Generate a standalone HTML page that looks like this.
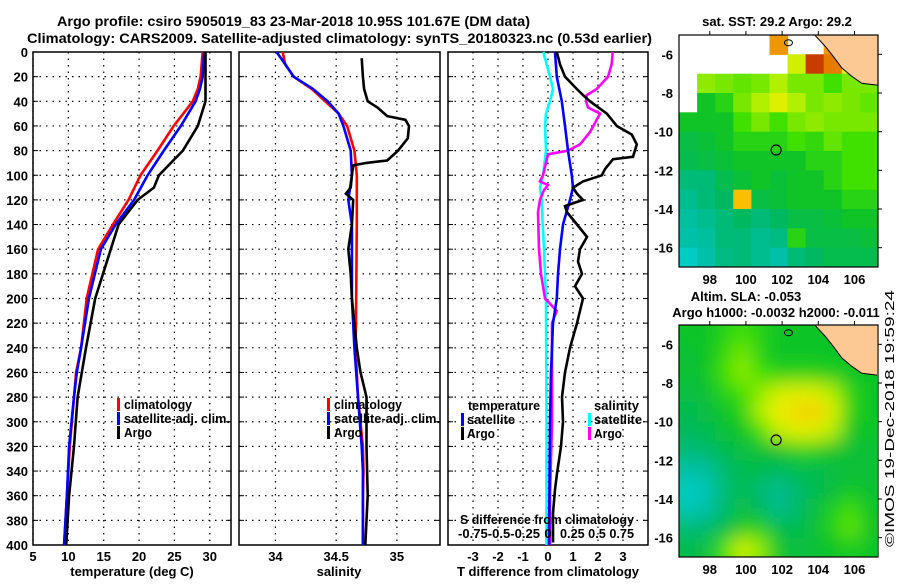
<!DOCTYPE html>
<html><head><meta charset="utf-8"><style>
html,body{margin:0;padding:0;background:#fff;}
svg text{font-family:"Liberation Sans",sans-serif;font-weight:bold;fill:#000;}
</style></head><body>
<svg id="fig" xmlns="http://www.w3.org/2000/svg" width="900" height="580" viewBox="0 0 900 580">
<defs>
<filter id="blur" x="0" y="0" width="100%" height="100%"><feGaussianBlur stdDeviation="9"/></filter>
<clipPath id="clipA"><rect x="679" y="35" width="199" height="232"/></clipPath>
<clipPath id="clipB"><rect x="679" y="325" width="198" height="232"/></clipPath>
</defs>
<text x="57" y="26" font-size="14" textLength="473" lengthAdjust="spacingAndGlyphs">Argo profile: csiro 5905019_83 23-Mar-2018 10.95S 101.67E (DM data)</text>
<text x="27" y="43" font-size="14" textLength="625" lengthAdjust="spacingAndGlyphs">Climatology: CARS2009. Satellite-adjusted climatology: synTS_20180323.nc (0.53d earlier)</text>
<g id="panels"></g>
<g id="maps"></g>
<text x="777" y="26" font-size="13" text-anchor="middle">sat. SST: 29.2 Argo: 29.2</text>
<text x="746" y="301" font-size="13" text-anchor="middle">Altim. SLA: -0.053</text>
<text x="776" y="317" font-size="13" text-anchor="middle">Argo h1000: -0.0032 h2000: -0.011</text>
<text transform="translate(894,547) rotate(-90)" font-size="13" style="font-weight:normal" textLength="257" lengthAdjust="spacingAndGlyphs">©IMOS 19-Dec-2018 19:59:24</text>
</svg>
<script>
// ---- profile data ----
const tempDepth = [0,20,30,40,60,80,100,120,140,160,200,240,260,280,320,360,400];
const tempClim  = [29.0,28.7,28.3,27.6,24.9,22.6,20.2,18.5,16.3,14.2,12.6,11.8,11.1,10.8,10.2,9.8,9.4];
const tempSat   = [29.2,29.0,28.6,28.0,25.9,23.5,21.2,19.3,16.7,14.6,12.9,11.8,11.2,10.8,10.1,9.8,9.4];
const argoTDepth= [0,40,60,80,90,100,110,120,140,160,200,240,280,320,360,400];
const argoTemp  = [29.4,29.4,28.3,26.2,24.5,22.8,22.1,19.8,17.1,16.0,13.8,12.5,11.3,10.8,10.1,9.7];

const salDepth = [0,10,20,30,40,50,60,80,100,120,140,200,240,280,320,340,360,400];
const salClim  = [34.06,34.08,34.15,34.30,34.41,34.52,34.59,34.65,34.67,34.67,34.67,34.665,34.66,34.68,34.72,34.725,34.72,34.72];
const salSat   = [34.01,34.08,34.15,34.31,34.43,34.52,34.56,34.62,34.63,34.60,34.63,34.63,34.65,34.68,34.71,34.72,34.72,34.72];
const argoSDepth=[5,20,30,40,45,52,55,60,70,80,88,90,92,100,110,115,120,140,160,180,200,220,240,260,280,320,360,400];
const argoSal   = [34.71,34.72,34.73,34.76,34.84,34.92,35.07,35.10,35.09,35.01,34.92,34.75,34.64,34.63,34.62,34.58,34.64,34.63,34.60,34.62,34.63,34.65,34.67,34.70,34.75,34.75,34.76,34.74];

const dTSatDepth = [0,20,40,60,80,100,110,120,140,160,180,200,220,260,300,400];
const dTSat      = [0.28,0.35,0.55,0.68,0.8,0.95,1.0,0.88,0.6,0.48,0.4,0.35,0.2,0.12,0.08,0.04];
const dTArgoDepth= [0,10,20,30,35,40,50,60,67,75,85,87,95,100,105,110,115,120,125,130,140,150,160,170,180,190,200,220,240,260,280,300,320,342,355,374,398];
const dTArgo     = [0.35,0.48,0.68,1.15,1.4,1.68,2.35,2.75,3.35,3.55,3.4,2.6,2.28,2.15,1.4,1.0,1.16,1.4,0.68,0.76,1.16,1.56,1.28,1.2,1.36,1.08,1.4,1.16,0.88,0.68,0.56,0.6,0.52,0.36,0.28,0.2,0.2];
const dSArgoDepth= [0,10,20,30,35,40,45,50,55,65,75,80,83,90,100,105,108,112,120,130,160,180,200,210,220,260,300,360,400];
const dSArgo     = [0.647,0.637,0.6,0.487,0.387,0.38,0.4,0.52,0.487,0.42,0.32,0.2,0,-0.02,-0.05,-0.08,0,-0.04,-0.08,-0.1,-0.09,-0.07,-0.03,0.087,0.04,0.04,0.04,0.02,0.02];
const dSSatDepth = [0,20,30,40,50,60,80,100,110,120,140,160,200,300,400];
const dSSat      = [-0.047,0.02,0.05,0.02,-0.02,-0.03,-0.02,-0.05,-0.08,-0.063,-0.053,-0.04,-0.02,-0.015,-0.015];

const depthTicks = [0,20,40,60,80,100,120,140,160,180,200,220,240,260,280,300,320,340,360,380,400];
const tempTicks = [5,10,15,20,25,30];
const salTicks = [34,34.5,35];
const salTickLabels = ["34","34.5","35"];
const dTTicks = [-3,-2,-1,0,1,2,3];

// ---- map data (rows from -5 to -17 lat, cols from 96.3 lon, 1 deg) ; -1 = no data ----
const sstGrid = [
 [-1,-1,-1,-1,-1,0.88,-1,-1,0.88,-1,-1],
 [-1,-1,-1,-1,-1,-1,0.7,0.95,0.9,0.72,0.7],
 [-1,0.62,0.6,0.58,0.6,0.65,0.6,0.6,0.55,0.6,0.6],
 [-1,0.45,0.5,0.6,0.65,0.72,0.65,0.6,0.62,0.6,0.58],
 [0.45,0.45,0.45,0.55,0.6,0.55,0.6,0.62,0.6,0.6,0.6],
 [0.4,0.42,0.45,0.5,0.5,0.5,0.55,0.52,0.58,0.55,0.55],
 [0.38,0.4,0.42,0.45,0.45,0.45,0.45,0.5,0.5,0.55,0.55],
 [0.3,0.3,0.38,0.42,0.45,0.42,0.45,0.45,0.5,0.55,0.55],
 [0.25,0.3,0.35,0.85,0.4,0.42,0.45,0.45,0.45,0.5,0.5],
 [0.22,0.25,0.3,0.35,0.3,0.35,0.4,0.4,0.42,0.45,0.45],
 [0.2,0.22,0.3,0.3,0.25,0.28,0.5,0.4,0.4,0.4,0.42],
 [0.1,0.2,0.28,0.3,0.25,0.2,0.3,0.35,0.38,0.38,0.38]];
const slaGrid = [
 [0.45,0.45,0.5,0.55,0.5,0.45,0.45,0.45,0.45,0.45,0.45],
 [0.42,0.45,0.52,0.6,0.5,0.45,0.45,0.45,0.45,0.45,0.45],
 [0.42,0.45,0.55,0.62,0.55,0.5,0.5,0.5,0.48,0.45,0.45],
 [0.4,0.42,0.5,0.55,0.62,0.7,0.72,0.72,0.65,0.5,0.45],
 [0.38,0.4,0.45,0.5,0.65,0.75,0.8,0.82,0.72,0.5,0.45],
 [0.35,0.38,0.42,0.45,0.55,0.68,0.72,0.72,0.65,0.45,0.45],
 [0.3,0.32,0.38,0.4,0.42,0.45,0.5,0.5,0.45,0.42,0.42],
 [0.2,0.22,0.32,0.38,0.38,0.35,0.38,0.38,0.4,0.42,0.42],
 [0.1,0.15,0.3,0.38,0.3,0.25,0.32,0.38,0.4,0.45,0.42],
 [0.15,0.2,0.32,0.4,0.35,0.25,0.32,0.4,0.48,0.55,0.45],
 [0.3,0.32,0.38,0.48,0.5,0.38,0.38,0.42,0.5,0.58,0.45],
 [0.38,0.4,0.55,0.7,0.62,0.45,0.4,0.42,0.45,0.48,0.45]];
const lonTicks = [98,100,102,104,106];
const latTicks = [-6,-8,-10,-12,-14,-16];
const argoLon = 101.67, argoLat = -10.95;

const NS = "http://www.w3.org/2000/svg";
function mk(tag, attrs, parent){const e=document.createElementNS(NS,tag);for(const k in attrs)e.setAttribute(k,attrs[k]);parent.appendChild(e);return e;}
const P = document.getElementById('panels');
const yTop=52,yBot=545;
const yS = d => yTop + (d/400)*(yBot-yTop);
function xScale(l,r,d0,d1){return v => l+(v-d0)/(d1-d0)*(r-l);}
const x1 = xScale(33,231,5,33), x2 = xScale(239,440,33.70,35.355), x3 = xScale(448,648,-4,4);
const x3S = s => x3(s*4);

function frame(l,r,xt,xf,xl,name){
  const g=mk('g',{},P);
  
  
  depthTicks.forEach(d=>{ if(d>0&&d<400){const ln=mk('line',{x1:l,x2:r,y1:yS(d),y2:yS(d),stroke:'#000','stroke-width':1.2,'stroke-dasharray':'1.5 5'},g);
    
    }
    mk('line',{x1:l,x2:l+5,y1:yS(d),y2:yS(d),stroke:'#000','stroke-width':1},g);
    mk('line',{x1:r-5,x2:r,y1:yS(d),y2:yS(d),stroke:'#000','stroke-width':1},g);});
  xt.forEach((v,i)=>{const x=xf(v);const ln=mk('line',{x1:x,x2:x,y1:yTop,y2:yBot,stroke:'#000','stroke-width':1.2,'stroke-dasharray':'1.5 5'},g);
    
    
    if(xl){const t=mk('text',{x:x,y:561,'font-size':13,'text-anchor':'middle'},g);t.textContent=xl[i];
    
    }});
  const b=mk('rect',{x:l,y:yTop,width:r-l,height:yBot-yTop,fill:'none',stroke:'#000','stroke-width':1.5},g);
  
  
  return g;
}
function line(g,xs,ds,xf,col,name){
  const pts=xs.map((v,i)=>xf(v).toFixed(1)+','+yS(ds[i]).toFixed(1)).join(' ');
  const pl=mk('polyline',{points:pts,fill:'none',stroke:col,'stroke-width':2.6,'stroke-linejoin':'miter'},g);
  
  
}
function txt(g,x,y,s,name,anchor,size,len){const a={x:x,y:y,'font-size':size||13,'text-anchor':anchor||'start'};if(len){a.textLength=len;a.lengthAdjust='spacingAndGlyphs';}
  const t=mk('text',a,g);t.textContent=s;
  
  return t;}
function bar(g,x,y,col){const r=mk('rect',{x:x,y:y-11,width:3,height:13,fill:col},g);
  
  }

// y labels
const yl=mk('g',{},P);


depthTicks.forEach(d=>{const t=mk('text',{x:28,y:yS(d)+5,'font-size':13,'text-anchor':'end'},yl);t.textContent=d;
  
  });

// panel 1
const g1=frame(33,231,tempTicks,x1,null,'temperature-panel');
[5,10,15,20,25,30].forEach(v=>{const t=mk('text',{x:x1(v),y:561,'font-size':13,'text-anchor':'middle'},g1);t.textContent=v;
  
  });
line(g1,tempClim,tempDepth,x1,'#ff0000','climatology-temp-line');
line(g1,tempSat,tempDepth,x1,'#0000ff','satellite-temp-line');
line(g1,argoTemp,argoTDepth,x1,'#000000','argo-temp-line');
bar(g1,117,409,'#ff0000');txt(g1,124,409,'climatology','legend-entry',null,13,68);
bar(g1,117,423,'#0000ff');txt(g1,124,423,'satellite-adj. clim.','legend-entry',null,13,106);
bar(g1,117,437,'#000');txt(g1,124,437,'Argo','legend-entry',null,13,28);
txt(g1,132,576,'temperature (deg C)','x-axis-title','middle');

// panel 2
const g2=frame(239,440,salTicks,x2,salTickLabels,'salinity-panel');
line(g2,salClim,salDepth,x2,'#ff0000','climatology-sal-line');
line(g2,salSat,salDepth,x2,'#0000ff','satellite-sal-line');
line(g2,argoSal,argoSDepth,x2,'#000000','argo-sal-line');
bar(g2,327,409,'#ff0000');txt(g2,334,409,'climatology','legend-entry',null,13,68);
bar(g2,327,423,'#0000ff');txt(g2,334,423,'satellite-adj. clim.','legend-entry',null,13,106);
bar(g2,327,437,'#000');txt(g2,334,437,'Argo','legend-entry',null,13,28);
txt(g2,339,576,'salinity','x-axis-title','middle');

// panel 3
const g3=frame(448,648,dTTicks,x3,dTTicks.map(String),'difference-panel');
line(g3,dSSat,dSSatDepth,x3S,'#00ffff','satellite-sal-diff-line');
line(g3,dSArgo,dSArgoDepth,x3S,'#ff00ff','argo-sal-diff-line');
line(g3,dTSat,dTSatDepth,x3,'#0000ff','satellite-temp-diff-line');
line(g3,dTArgo,dTArgoDepth,x3,'#000000','argo-temp-diff-line');
txt(g3,468,410,'temperature','legend-title',null,13,72);
bar(g3,461,424,'#0000ff');txt(g3,467,424,'satellite','legend-entry',null,13,48);
bar(g3,461,438,'#000');txt(g3,467,438,'Argo','legend-entry',null,13,28);
txt(g3,594,410,'salinity','legend-title',null,13,45);
bar(g3,588,424,'#00ffff');txt(g3,594,424,'satellite','legend-entry',null,13,48);
bar(g3,588,438,'#ff00ff');txt(g3,594,438,'Argo','legend-entry',null,13,28);
txt(g3,547,524,'S difference from climatology','s-axis-title','middle',13,174);
txt(g3,458,538,'-0.75-0.5-0.25','s-tick-labels',null,13,82);
txt(g3,548,538,'0','s-tick-label','middle');
txt(g3,560,538,'0.25 0.5 0.75','s-tick-labels',null,13,74);
txt(g3,548,576,'T difference from climatology','x-axis-title','middle');

// ---- maps ----
const stops=[[0,[0,216,224]],[0.2,[0,192,168]],[0.35,[0,184,96]],[0.45,[16,196,40]],[0.55,[64,224,0]],[0.65,[176,240,0]],[0.75,[240,240,0]],[0.85,[248,192,0]],[0.92,[224,96,0]],[1,[160,0,0]]];
function cmap(v){for(let i=1;i<stops.length;i++){if(v<=stops[i][0]){const a=stops[i-1],b=stops[i],t=(v-a[0])/(b[0]-a[0]);const c=a[1].map((x,k)=>Math.round(x+(b[1][k]-x)*t));return 'rgb('+c.join(',')+')';}}return 'rgb(160,0,0)';}
const M=document.getElementById('maps');
function drawMap(grid,top,bottom,clip,blur,name){
  const L=679,R=878,lon0=96.3,lon1=107.3,lat0=-5,lat1=-17;
  const gx=v=>L+(v-lon0)/(lon1-lon0)*(R-L), gy=v=>top+(v-lat0)/(lat1-lat0)*(bottom-top);
  const g=mk('g',{},M);
  
  
  const cg=mk('g',{'clip-path':'url(#'+clip+')'},g);
  if(blur){mk('rect',{x:L,y:top,width:R-L,height:bottom-top,fill:cmap(0.45)},cg);}
  const hg=mk('g',blur?{filter:'url(#blur)'}:{},cg);
  grid.forEach((row,r)=>row.forEach((v,c)=>{if(v<0)return;
    const ext=blur?10:0;
    const x0=gx(lon0+c),y0=gy(lat0-r);
    const cell=mk('rect',{x:(x0-(blur&&c==0?ext:0)).toFixed(1),y:(y0-(blur&&r==0?ext:0)).toFixed(1),width:(gx(lon0+c+1)-x0+0.6+(blur&&(c==0||c==row.length-1)?ext:0)).toFixed(1),height:(gy(lat0-r-1)-y0+0.6+(blur&&(r==0||r==grid.length-1)?ext:0)).toFixed(1),fill:cmap(v)},hg);
    
    }));
  const land=[[103.8,-5],[104.4,-5.6],[104.9,-6.2],[105.3,-6.7],[105.8,-7.1],[106.4,-7.5],[107.3,-7.6],[107.3,-5]];
  const lp=mk('polygon',{points:land.map(p=>gx(p[0]).toFixed(1)+','+gy(p[1]).toFixed(1)).join(' '),fill:'#fcc894',stroke:'#000','stroke-width':1},cg);
  
  
  const isl=mk('ellipse',{cx:gx(102.35),cy:gy(-5.4),rx:4,ry:3,fill:'none',stroke:'#000','stroke-width':1},cg);
  
  
  const c=mk('circle',{cx:gx(argoLon),cy:gy(argoLat),r:5,fill:'none',stroke:'#000','stroke-width':1.2},g);
  
  
  const b=mk('rect',{x:L,y:top,width:R-L,height:bottom-top,fill:'none',stroke:'#000','stroke-width':1.2},g);
  
  
  lonTicks.forEach(v=>{mk('line',{x1:gx(v),x2:gx(v),y1:top-4,y2:top,stroke:'#000'},g);
    const t=mk('text',{x:gx(v),y:bottom+17,'font-size':13,'text-anchor':'middle'},g);t.textContent=v;
    
    });
  latTicks.forEach(v=>{mk('line',{x1:R,x2:R+4,y1:gy(v),y2:gy(v),stroke:'#000'},g);
    const t=mk('text',{x:673,y:gy(v)+5,'font-size':13,'text-anchor':'end'},g);t.textContent=v;
    
    });
}
drawMap(sstGrid,35,267,'clipA',false,'sst-map');
drawMap(slaGrid,325,557,'clipB',true,'sla-map');
</script>
</body></html>
